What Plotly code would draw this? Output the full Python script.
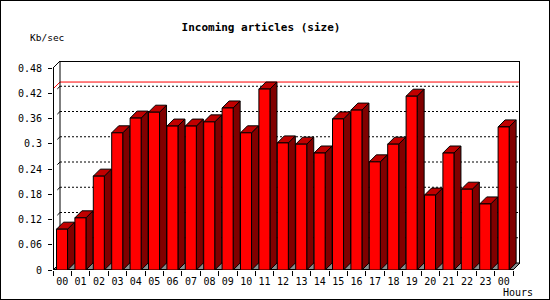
import plotly.graph_objects as go

# ---- data -------------------------------------------------------------
hours = ["00", "01", "02", "03", "04", "05", "06", "07", "08", "09", "10", "11",
         "12", "13", "14", "15", "16", "17", "18", "19", "20", "21", "22", "23", "00"]
rate_kb_sec = [0.097, 0.124, 0.223, 0.326, 0.361, 0.375, 0.342, 0.342, 0.352, 0.385,
               0.326, 0.430, 0.302, 0.299, 0.278, 0.359, 0.380, 0.257, 0.299, 0.413,
               0.178, 0.278, 0.192, 0.157, 0.340]
y_tick_values = [0, 0.06, 0.12, 0.18, 0.24, 0.30, 0.36, 0.42, 0.48]
y_tick_labels = ["0", "0.06", "0.12", "0.18", "0.24", "0.3", "0.36", "0.42", "0.48"]
title_text = "Incoming articles (size)"
y_title = "Kb/sec"
x_title = "Hours"

# ---- geometry / style -------------------------------------------------
FIG_W, FIG_H = 550, 300
L, T = 53, 61
SLOT_PX = 18.4
Y_TOP = y_tick_values[-1]
UNIT_PX = 202 / Y_TOP
DEPTH_PX = 7
n = len(hours)
DX = DEPTH_PX / SLOT_PX
DY = DEPTH_PX / UNIT_PX
W = n * SLOT_PX + DEPTH_PX
H = Y_TOP * UNIT_PX + DEPTH_PX
R = FIG_W - L - W
B = FIG_H - T - H
XL, XR = -0.5, n - 0.5
F_LEFT, F_RIGHT = -0.31, 0.29  # front face extent around the slot centre

FONT = "DejaVu Sans Mono"
C_FRONT, C_TOP, C_SIDE = "#ff0000", "#c00000", "#800000"


def paper_x(px):
    return (px - L) / W


def paper_y(py):
    return (T + H - py) / H


def polys(poly_list):
    xs, ys = [], []
    for poly in poly_list:
        for (x, y) in poly:
            xs.append(x)
            ys.append(y)
        xs.append(None)
        ys.append(None)
    return xs, ys


fig = go.Figure()


def add_line(xs, ys, color="black", width=1, dash="solid"):
    fig.add_trace(go.Scatter(x=xs, y=ys, mode="lines", hoverinfo="skip",
                             line=dict(color=color, width=width, dash=dash),
                             showlegend=False, xaxis="x", yaxis="y"))


def add_fill(poly_list, fill, width=1):
    xs, ys = polys(poly_list)
    fig.add_trace(go.Scatter(x=xs, y=ys, mode="lines", fill="toself", fillcolor=fill,
                             hoverinfo="skip", line=dict(color="black", width=width),
                             showlegend=False, xaxis="x", yaxis="y"))


# floor
add_fill([[(XL, 0), (XR, 0), (XR + DX, DY), (XL + DX, DY), (XL, 0)]], "#8c8c8c")

# back-wall grid lines (dotted) and small tick connectors
gx, gy, cx, cy = [], [], [], []
for v in y_tick_values[1:-1]:
    gx += [XL + DX, XR + DX, None]
    gy += [v + DY, v + DY, None]
    cx += [XL + 0.62 * DX, XL + DX, None]
    cy += [v + 0.62 * DY, v + DY, None]
add_line(gx, gy, dash="2px,2px")
add_line(cx, cy)

# maximum line (red)
vmax = max(rate_kb_sec)
add_line([XL, XL + DX, XR + DX], [vmax, vmax + DY, vmax + DY], color="#ff0000")

# wall outline
add_line([XL + DX, XL + DX, None, XL, XL + DX], [DY, Y_TOP + DY, None, Y_TOP, Y_TOP + DY])
add_line([XL + DX, XR + DX, XR + DX], [Y_TOP + DY, Y_TOP + DY, DY], width=2)
add_line([XL, XL, None, XL, XR], [0, Y_TOP, None, 0, 0], width=2)

# bars
fronts, tops, sides = [], [], []
for i, v in enumerate(rate_kb_sec):
    a, b = i + F_LEFT, i + F_RIGHT
    fronts.append([(a, 0), (b, 0), (b, v), (a, v), (a, 0)])
    tops.append([(a, v), (b, v), (b + DX, v + DY), (a + DX, v + DY), (a, v)])
    sides.append([(b, 0), (b + DX, DY), (b + DX, v + DY), (b, v), (b, 0)])
add_fill(sides, C_SIDE)
add_fill(tops, C_TOP)
add_fill(fronts, C_FRONT)

# invisible trace so xaxis2 exists
fig.add_trace(go.Scatter(x=[0], y=[0], mode="markers", marker=dict(opacity=0),
                         hoverinfo="skip", showlegend=False, xaxis="x2", yaxis="y"))

tick_font = dict(family=FONT, size=10, color="black")
fig.update_layout(
    width=FIG_W, height=FIG_H,
    margin=dict(l=L, r=R, t=T, b=B, pad=0),
    paper_bgcolor="white", plot_bgcolor="white",
    showlegend=False, hovermode=False,
    title=dict(text=title_text, x=261 / FIG_W, xref="container", xanchor="center",
               y=1 - 27 / FIG_H, yref="container", yanchor="middle",
               font=dict(family=FONT, size=11, color="black", weight="bold")),
    xaxis=dict(range=[XL, XR + DX], tickvals=[i - 0.5 for i in range(n + 1)],
               ticks="outside", ticklen=5, tickcolor="black", tickwidth=1,
               showticklabels=False, showgrid=False, zeroline=False, showline=False,
               fixedrange=True),
    xaxis2=dict(range=[XL, XR + DX], overlaying="x", anchor="y", side="bottom",
                tickvals=list(range(n)), ticktext=hours, ticks="", tickfont=tick_font,
                ticklabelstandoff=4,
                showgrid=False, zeroline=False, showline=False, fixedrange=True),
    yaxis=dict(range=[0, Y_TOP + DY], tickvals=y_tick_values, ticktext=y_tick_labels,
               ticks="outside", ticklen=4, tickcolor="black", tickwidth=1,
               tickfont=tick_font, ticklabelstandoff=4, showgrid=False, zeroline=False,
               showline=False, fixedrange=True),
    annotations=[
        dict(text=y_title, xref="paper", yref="paper", x=paper_x(28), y=paper_y(37),
             xanchor="left", yanchor="middle", showarrow=False,
             font=dict(family=FONT, size=9.5, color="black")),
        dict(text=x_title, xref="paper", yref="paper", x=paper_x(535), y=paper_y(292),
             xanchor="right", yanchor="middle", showarrow=False,
             font=dict(family=FONT, size=10, color="black")),
    ],
    shapes=[dict(type="rect", xref="paper", yref="paper",
                 x0=paper_x(0), x1=paper_x(FIG_W), y0=paper_y(FIG_H), y1=paper_y(0),
                 line=dict(color="black", width=2), layer="above")],
)

fig.write_html("out.html")
